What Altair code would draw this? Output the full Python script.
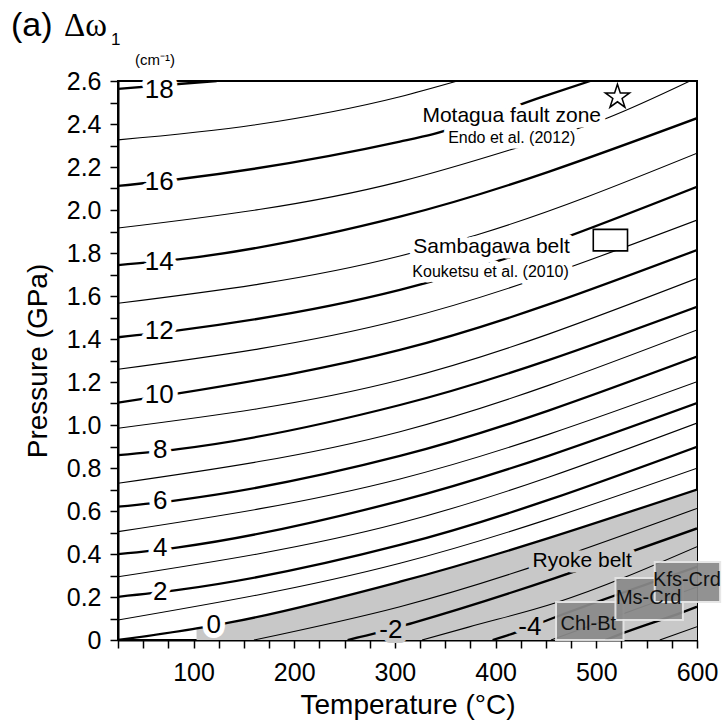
import altair as alt
import pandas as pd

# Isolines of the Raman shift (T in degC, P in GPa), one list per level
iso_18 = [(25, 2.563), (85, 2.586), (123, 2.600)]
iso_17 = [(25, 2.326), (160, 2.395), (305, 2.527), (362, 2.600)]
iso_16 = [(25, 2.112), (85, 2.143), (305, 2.318), (338, 2.353), (447, 2.527), (494, 2.600)]
iso_15 = [(25, 1.916), (305, 2.132), (414, 2.279), (511, 2.428), (593, 2.600)]
iso_14 = [(25, 1.744), (85, 1.770), (305, 1.969), (600, 2.427)]
iso_13 = [(25, 1.566), (305, 1.786), (381, 1.884), (600, 2.264)]
iso_12 = [(25, 1.408), (85, 1.440), (305, 1.628), (600, 2.108)]
iso_11 = [(25, 1.259), (305, 1.488), (600, 1.953)]
iso_10 = [(25, 1.104), (85, 1.147), (305, 1.349), (600, 1.814)]
iso_9 = [(25, 0.985), (305, 1.209), (600, 1.682)]
iso_8 = [(25, 0.860), (85, 0.888), (305, 1.093), (600, 1.550)]
iso_7 = [(25, 0.729), (305, 0.969), (600, 1.442)]
iso_6 = [(25, 0.620), (85, 0.651), (305, 0.856), (600, 1.318)]
iso_5 = [(25, 0.504), (305, 0.749), (600, 1.201)]
iso_4 = [(25, 0.399), (85, 0.431), (305, 0.647), (600, 1.102)]
iso_3 = [(25, 0.294), (305, 0.544), (600, 1.009)]
iso_2 = [(25, 0.201), (85, 0.233), (305, 0.442), (600, 0.899)]
iso_1 = [(25, 0.093), (305, 0.357), (600, 0.799)]
iso_0 = [(25, 0.000), (99, 0.051), (103, 0.054), (139, 0.084), (305, 0.271), (600, 0.700)]
iso_m1 = [(160, 0.000), (305, 0.155), (600, 0.612)]
iso_m2 = [(253, 0.000), (283, 0.034), (318, 0.080), (600, 0.519)]
iso_m3 = [(327, 0.000), (373, 0.060), (459, 0.172), (600, 0.434)]
iso_m4 = [(397, 0.000), (417, 0.030), (452, 0.093), (600, 0.340)]
iso_m5 = [(455, 0.000), (600, 0.247)]
iso_m6 = [(509, 0.000), (527, 0.033), (586, 0.130), (600, 0.155)]
iso_m7 = [(563, 0.000), (600, 0.062)]

isolines = {
    18: iso_18, 17: iso_17, 16: iso_16, 15: iso_15, 14: iso_14, 13: iso_13,
    12: iso_12, 11: iso_11, 10: iso_10, 9: iso_9, 8: iso_8, 7: iso_7,
    6: iso_6, 5: iso_5, 4: iso_4, 3: iso_3, 2: iso_2, 1: iso_1, 0: iso_0,
    -1: iso_m1, -2: iso_m2, -3: iso_m3, -4: iso_m4, -5: iso_m5, -6: iso_m6,
    -7: iso_m7,
}

GRAY = "#c8c8c8"

# Inline labels of the even isolines
label_text = ["18", "16", "14", "12", "10", "8", "6", "4", "2", "0", "-2", "-4"]
label_T = [66, 66, 66, 66, 66, 67, 67, 67, 67, 120, 296, 434]
label_P = [2.558, 2.130, 1.758, 1.437, 1.140, 0.884, 0.647, 0.428, 0.223, 0.070, 0.047, 0.060]
label_bg = ["white"] * 10 + [GRAY, GRAY]

# Ryoke belt field: below the zero isoline, from 103 degC upwards
ryoke_T = [t for t, p in iso_0 if t >= 103]
ryoke_P = [p for t, p in iso_0 if t >= 103]

# Metamorphic zones of the Ryoke belt
zone_name = ["Chl-Bt", "Ms-Crd", "Kfs-Crd"]
zone_T1 = [460, 519, 558]
zone_T2 = [527, 586, 623]
zone_P1 = [0.000, 0.093, 0.177]
zone_P2 = [0.177, 0.288, 0.363]
zone_label_T = [492, 552, 590]
zone_label_P = [0.074, 0.195, 0.279]

# Natural samples
sanba_T = [497, 531]
sanba_P = [1.81, 1.91]
motagua_T = [521]
motagua_P = [2.526]

notes = ["Motagua fault zone", "Endo et al. (2012)", "Sambagawa belt",
         "Kouketsu et al. (2010)", "Ryoke belt"]
notes_T = [416, 416, 396, 395, 486]
notes_P = [2.437, 2.335, 1.828, 1.712, 0.367]
notes_size = [21, 16, 21, 16, 21]
notes_bg = ["white", "white", "white", "white", GRAY]

FONT = "Liberation Sans"
STAR = ("M0,-1L0.2245,-0.309L0.951,-0.309L0.363,0.118L0.588,0.809L0,0.382"
        "L-0.588,0.809L-0.363,0.118L-0.951,-0.309L-0.2245,-0.309Z")

rows = []
for lev, pts in isolines.items():
    for t, p in pts:
        rows.append({"level": str(lev), "T": t, "P": p,
                     "w": 2.3 if lev % 2 == 0 else 1.1})
iso_df = pd.DataFrame(rows)

x_scale = alt.Scale(domain=[25, 600], nice=False, zero=False)
y_scale = alt.Scale(domain=[0, 2.6], nice=False, zero=False)

x_ticks = list(range(25, 601, 25))
y_ticks = [round(v * 0.1, 1) for v in range(0, 27)]

x_axis = alt.Axis(
    values=x_ticks, labelExpr="datum.value % 100 == 0 ? datum.label : ''",
    title="Temperature (°C)", orient="bottom", grid=False,
)
y_axis = alt.Axis(
    values=y_ticks,
    labelExpr="round(datum.value * 10) % 2 == 0 ? (datum.value == 0 ? '0' : format(datum.value, '.1f')) : ''",
    title="Pressure (GPa)", orient="left", grid=False,
)


def X(field):
    return alt.X(field, type="quantitative", scale=x_scale, axis=x_axis)


def Y(field):
    return alt.Y(field, type="quantitative", scale=y_scale, axis=y_axis)


ryoke = alt.Chart(pd.DataFrame({"T": ryoke_T, "P": ryoke_P, "Z": [0] * len(ryoke_T)})).mark_area(
    color=GRAY, interpolate="monotone", clip=True
).encode(x=X("T"), y=Y("P"), y2="Z")

lines = alt.Chart(iso_df).mark_line(
    color="black", interpolate="monotone", clip=True
).encode(x=X("T"), y=Y("P"), detail="level:N",
         strokeWidth=alt.StrokeWidth("w:Q", scale=None))

zones_df = pd.DataFrame({"name": zone_name, "T1": zone_T1, "T2": zone_T2,
                         "P1": zone_P1, "P2": zone_P2,
                         "lt": zone_label_T, "lp": zone_label_P})
zones = alt.Chart(zones_df).mark_rect(
    fill="#8a8a8a", stroke="#e6e6e6", strokeWidth=2, opacity=0.93
).encode(x=X("T1"), x2="T2", y=Y("P1"), y2="P2")
zone_text = alt.Chart(zones_df).mark_text(
    font=FONT, fontSize=20, color="#111111", baseline="middle", align="center"
).encode(x=X("lt"), y=Y("lp"), text="name:N")

sanba = alt.Chart(pd.DataFrame({"T1": [sanba_T[0]], "T2": [sanba_T[1]],
                                "P1": [sanba_P[0]], "P2": [sanba_P[1]]})).mark_rect(
    fill="white", stroke="black", strokeWidth=1.6
).encode(x=X("T1"), x2="T2", y=Y("P1"), y2="P2")

star = alt.Chart(pd.DataFrame({"T": motagua_T, "P": motagua_P})).mark_point(
    shape=STAR, size=650, filled=True, fill="white", stroke="black",
    strokeWidth=1.5, opacity=1
).encode(x=X("T"), y=Y("P"))

# Text halos in the local background colour break the isolines
lab_df = pd.DataFrame({"txt": label_text, "T": label_T, "P": label_P, "bg": label_bg})
lab_halo = alt.Chart(lab_df).mark_text(
    font=FONT, fontSize=26, strokeWidth=10, strokeJoin="round",
    baseline="middle", align="center"
).encode(x=X("T"), y=Y("P"), text="txt:N",
         color=alt.Color("bg:N", scale=None), stroke=alt.Stroke("bg:N", scale=None))
lab = alt.Chart(lab_df).mark_text(
    font=FONT, fontSize=26, color="black", baseline="middle", align="center"
).encode(x=X("T"), y=Y("P"), text="txt:N")

notes_df = pd.DataFrame({"txt": notes, "T": notes_T, "P": notes_P,
                         "s": notes_size, "bg": notes_bg})
notes_halo = alt.Chart(notes_df).mark_text(
    font=FONT, strokeWidth=11, strokeJoin="round", baseline="middle", align="center"
).encode(x=X("T"), y=Y("P"), text="txt:N", size=alt.Size("s:Q", scale=None),
         color=alt.Color("bg:N", scale=None), stroke=alt.Stroke("bg:N", scale=None))
notes_txt = alt.Chart(notes_df).mark_text(
    font=FONT, color="black", baseline="middle", align="center"
).encode(x=X("T"), y=Y("P"), text="txt:N", size=alt.Size("s:Q", scale=None))


# Panel heading with the quantity and its unit
def heading(txt, px, py, fs, font=FONT):
    return alt.Chart(pd.DataFrame({"txt": [txt]})).mark_text(
        align="left", baseline="alphabetic", color="black", font=font, fontSize=fs
    ).encode(x=alt.value(px), y=alt.value(py), text="txt:N")


head = [
    heading("(a)", -107, -45, 34),
    heading("Δω", -54, -45, 33, "Liberation Serif"),
    heading("1", -7, -36, 17),
    heading("(cm⁻¹)", 17, -16, 15),
]

chart = alt.layer(
    ryoke, lines, zones, zone_text, sanba, star,
    lab_halo, lab, notes_halo, notes_txt, *head,
).properties(
    width=579, height=559,
    autosize=alt.AutoSizeParams(type="none"),
    padding={"left": 118, "top": 81, "right": 30, "bottom": 84},
    background="white",
).configure_view(
    stroke="black", strokeWidth=2
).configure_axis(
    tickSize=8, tickWidth=1.5, tickColor="black", domainColor="black",
    domainWidth=2, labelFont=FONT, labelColor="black", labelFlush=False,
    titleFont=FONT, titleFontWeight="normal", titleColor="black",
).configure_axisX(
    labelFontSize=25, labelPadding=12, titleFontSize=28, titlePadding=6,
).configure_axisY(
    labelFontSize=25, labelPadding=9, titleFontSize=28, titlePadding=14,
)

chart.save("out.html", embed_options={"renderer": "svg", "actions": False})
